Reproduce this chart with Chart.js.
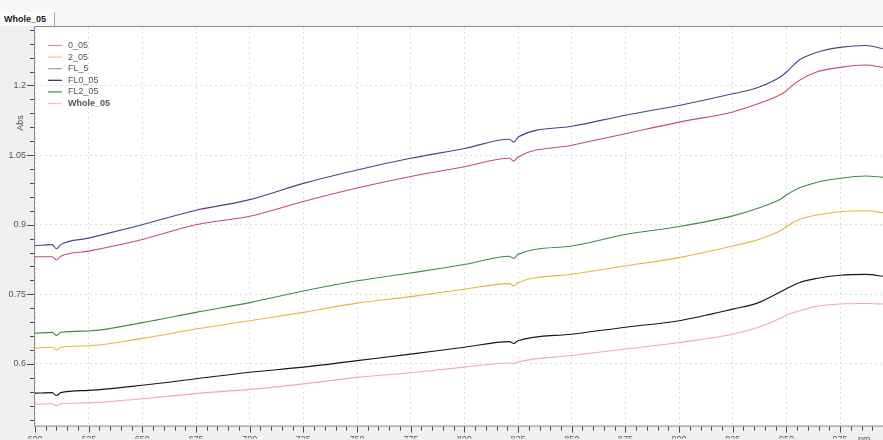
<!DOCTYPE html>
<html>
<head>
<meta charset="utf-8">
<script src="https://cdn.jsdelivr.net/npm/chart.js@4"></script>
<style>
  html, body { margin: 0; padding: 0; background: #f0f0f0; }
  #wrap { position: relative; width: 883px; height: 440px; overflow: hidden; }
  #topband { position: absolute; left: 0; top: 0; width: 883px; height: 26px; background: #f7f7f7; }
  #tab {
    position: absolute; left: 0; top: 12px; width: 55px; height: 14px;
    background: #fbfbfb; border-right: 1px solid #a8a8a8;
    font: bold 9px "Liberation Sans", Arial, sans-serif; color: #222;
    line-height: 14px; padding-left: 4px; box-sizing: border-box;
  }
  canvas { position: absolute; left: 0; top: 0; }
</style>
</head>
<body>
<div id="wrap">
  <div id="topband"></div>
  <div id="tab">Whole_05</div>
  <canvas id="chart" width="883" height="440"></canvas>
</div>
<script>
// wavelength (nm) and absorbance
const wavelengths = [600, 608, 610, 612, 625, 650, 675, 700, 725, 750, 775, 800, 821, 823, 825,
                     850, 875, 900, 925, 937, 948, 950, 956, 964, 975, 987, 995];

const s0_05 = [0.831, 0.831, 0.824, 0.832, 0.843, 0.868, 0.900, 0.918, 0.950, 0.979, 1.004, 1.025, 1.043, 1.037, 1.046,
               1.071, 1.096, 1.121, 1.143, 1.161, 1.182, 1.189, 1.211, 1.229, 1.239, 1.244, 1.239];
const s2_05 = [0.634, 0.636, 0.630, 0.636, 0.639, 0.655, 0.675, 0.693, 0.711, 0.731, 0.745, 0.761, 0.773, 0.768, 0.775,
               0.793, 0.811, 0.829, 0.854, 0.868, 0.889, 0.896, 0.911, 0.921, 0.928, 0.930, 0.926];
const sFL_5 = [0.855, 0.857, 0.848, 0.857, 0.871, 0.900, 0.931, 0.954, 0.989, 1.018, 1.043, 1.064, 1.084, 1.078, 1.089,
               1.112, 1.136, 1.157, 1.182, 1.196, 1.221, 1.229, 1.255, 1.271, 1.282, 1.286, 1.279];
const sFL0_05 = [0.537, 0.538, 0.532, 0.538, 0.543, 0.554, 0.568, 0.582, 0.593, 0.607, 0.621, 0.636, 0.648, 0.644, 0.650,
                 0.664, 0.679, 0.693, 0.718, 0.732, 0.757, 0.762, 0.775, 0.784, 0.791, 0.793, 0.789];
const sFL2_05 = [0.666, 0.668, 0.661, 0.668, 0.671, 0.689, 0.711, 0.732, 0.757, 0.779, 0.796, 0.814, 0.832, 0.827, 0.836,
                 0.854, 0.879, 0.896, 0.919, 0.936, 0.957, 0.964, 0.979, 0.991, 1.000, 1.005, 1.002];
const sWhole_05 = [0.513, 0.514, 0.510, 0.514, 0.516, 0.525, 0.536, 0.545, 0.557, 0.571, 0.581, 0.593, 0.602, 0.600, 0.604,
                   0.618, 0.632, 0.646, 0.664, 0.679, 0.700, 0.705, 0.714, 0.724, 0.729, 0.730, 0.729];

const seriesNames = ['0_05', '2_05', 'FL_5', 'FL0_05', 'FL2_05', 'Whole_05'];
const seriesValues = [s0_05, s2_05, sFL_5, sFL0_05, sFL2_05, sWhole_05];
const lineColors = ['#c4505c', '#e2b445', '#43468f', '#141414', '#3f8a48', '#f1a7bc'];
const legendColors = ['#d99098', '#efc890', '#a0a0a8', '#2c2c3c', '#4c844c', '#f2c0cc'];

const FONT = '"Liberation Sans", Arial, sans-serif';

// white plot background + frame, tick marks, unit labels
const plotFrame = {
    id: 'plotFrame',
    beforeDraw(chart) {
        const { ctx, chartArea: a } = chart;
        ctx.save();
        ctx.fillStyle = '#ffffff';
        ctx.fillRect(a.left, a.top, a.right - a.left, a.bottom - a.top);
        ctx.restore();
    },
    afterDraw(chart) {
        const { ctx, chartArea: a } = chart;
        const xs = chart.scales.x, ys = chart.scales.y;
        ctx.save();
        ctx.setLineDash([]);
        ctx.lineWidth = 1;
        ctx.strokeStyle = '#8a8a8a';
        ctx.beginPath();
        ctx.moveTo(a.left - 0.5, a.top - 0.5);
        ctx.lineTo(a.right, a.top - 0.5);
        ctx.moveTo(a.left - 0.5, a.top - 0.5);
        ctx.lineTo(a.left - 0.5, a.bottom + 0.5);
        ctx.lineTo(a.right, a.bottom + 0.5);
        ctx.stroke();

        // minor every 5 nm / 0.03, major every 25 nm / 0.15
        ctx.strokeStyle = '#4a4a4a';
        ctx.beginPath();
        for (let k = 0; 600 + k * 5 <= xs.max; k++) {
            const px = Math.round(xs.getPixelForValue(600 + k * 5)) + 0.5;
            const len = k % 5 === 0 ? 6 : 4;
            ctx.moveTo(px, a.bottom + 1);
            ctx.lineTo(px, a.bottom + 1 + len);
        }
        for (let k = 0; 0.48 + k * 0.03 <= ys.max; k++) {
            const py = Math.round(ys.getPixelForValue(0.48 + k * 0.03)) + 0.5;
            const len = k % 5 === 4 ? 7 : 4;
            ctx.moveTo(a.left - 1, py);
            ctx.lineTo(a.left - 1 - len, py);
        }
        ctx.stroke();

        ctx.fillStyle = '#555';
        ctx.font = '9px ' + FONT;
        ctx.textBaseline = 'top';
        ctx.textAlign = 'left';
        ctx.fillText('nm', 858, a.bottom + 9);
        ctx.translate(21, 123);
        ctx.rotate(-Math.PI / 2);
        ctx.textAlign = 'center';
        ctx.textBaseline = 'middle';
        ctx.fillText('Abs', 0, 0);
        ctx.restore();
    }
};

// legend drawn inside the plot, top-left
const innerLegend = {
    id: 'innerLegend',
    afterDatasetsDraw(chart) {
        const { ctx, chartArea: a } = chart;
        ctx.save();
        ctx.textBaseline = 'middle';
        ctx.textAlign = 'left';
        chart.data.datasets.forEach((ds, i) => {
            const y = a.top + 18.5 + i * 11.6;
            ctx.strokeStyle = legendColors[i];
            ctx.lineWidth = 1.2;
            ctx.beginPath();
            ctx.moveTo(a.left + 13, y);
            ctx.lineTo(a.left + 27, y);
            ctx.stroke();
            ctx.fillStyle = '#555';
            ctx.font = (ds.label === 'Whole_05' ? 'bold ' : '') + '9px ' + FONT;
            ctx.fillText(ds.label, a.left + 33, y);
        });
        ctx.restore();
    }
};

const datasets = seriesNames.map((name, i) => ({
    label: name,
    data: wavelengths.map((w, j) => ({ x: w, y: seriesValues[i][j] })),
    borderColor: lineColors[i],
    backgroundColor: lineColors[i],
    borderWidth: 1.1,
    pointRadius: 0,
    cubicInterpolationMode: 'monotone',
    fill: false
}));

new Chart(document.getElementById('chart'), {
    type: 'line',
    data: { datasets },
    plugins: [plotFrame, innerLegend],
    options: {
        responsive: false,
        animation: false,
        layout: { padding: { top: 27, left: 0, right: 0, bottom: 0 } },
        plugins: {
            legend: { display: false },
            tooltip: { enabled: false }
        },
        scales: {
            x: {
                type: 'linear',
                min: 600,
                max: 995,
                afterFit: (s) => { s.height = 13; },
                border: { display: false, dash: [2, 3] },
                grid: { color: '#dedede', drawTicks: false, lineWidth: 1 },
                ticks: {
                    stepSize: 25,
                    includeBounds: false,
                    padding: 9,
                    maxRotation: 0,
                    autoSkip: false,
                    color: '#555',
                    font: { family: FONT, size: 9 },
                    callback: (v) => String(v)
                }
            },
            y: {
                min: 0.467,
                max: 1.326,
                afterFit: (s) => { s.width = 35; },
                border: { display: false, dash: [2, 3] },
                grid: { color: '#dedede', drawTicks: false, lineWidth: 1 },
                ticks: {
                    stepSize: 0.15,
                    includeBounds: false,
                    padding: 9,
                    color: '#555',
                    font: { family: FONT, size: 9 },
                    callback: (v) => String(+v.toFixed(2))
                }
            }
        }
    }
});
</script>
</body>
</html>
